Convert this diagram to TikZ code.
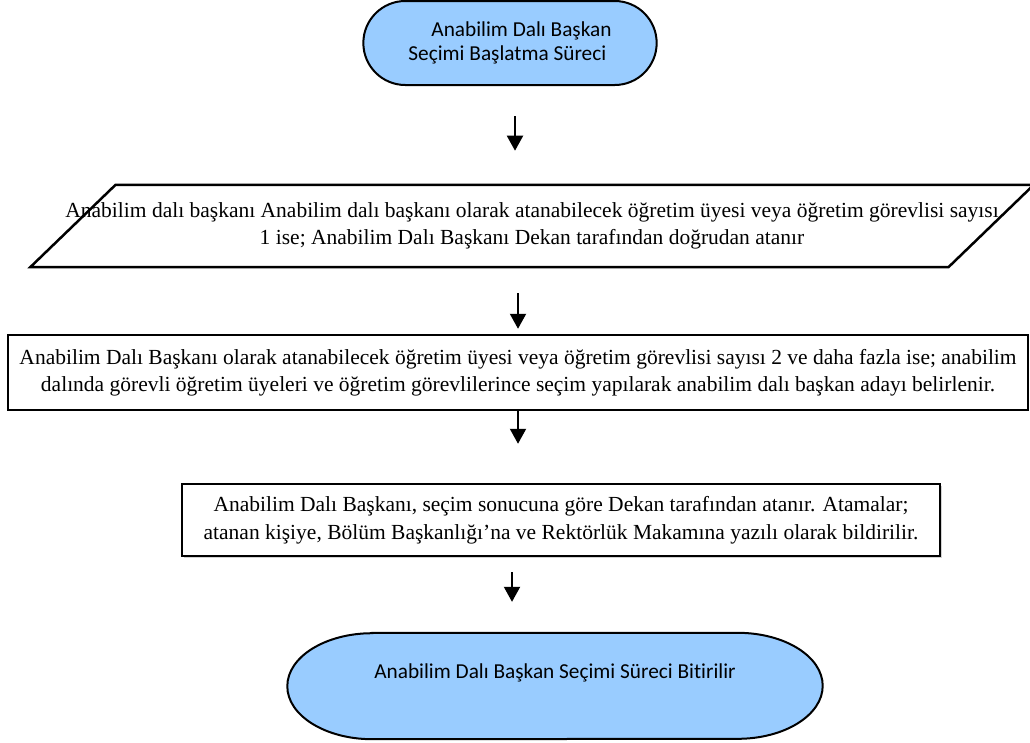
\documentclass[tikz,border=0pt]{standalone}
\usepackage{fontspec}
\setmainfont{Liberation Serif}
\newfontfamily\termfont[Ligatures=NoCommon]{Carlito}
\usepackage{tikz}
\usetikzlibrary{arrows.meta,shapes.geometric,shapes.misc,shadows,backgrounds}
\definecolor{termblue}{RGB}{153,204,255}

\begin{document}
\begin{tikzpicture}[x=1pt,y=1pt,
term/.style={rounded rectangle,draw,line width=2pt,fill=termblue,minimum width=300pt,minimum height=84pt,align=left,font=\termfont\fontsize{21.3}{23.5}\selectfont},
termend/.style={minimum width=535pt,minimum height=106pt,text depth=29pt,font=\termfont\fontsize{21.3}{23.5}\selectfont},
io/.style={trapezium,draw,line width=2.5pt,trapezium left angle=44,trapezium right angle=136,inner xsep=-50pt,inner ysep=17.5pt,align=center,font=\fontsize{21.5}{27.5}\selectfont},
proc/.style={rectangle,draw,fill=white,line width=2.5pt,inner sep=0pt,align=center,font=\fontsize{21.5}{27.5}\selectfont},
flow/.style={-{Triangle[width=16pt,length=15pt]},line width=2pt}]
\useasboundingbox (0,0) rectangle (1030,-742);
\node[term] (start) at (510,-43) {\hspace*{23pt}Anabilim Dalı Başkan\\Seçimi Başlatma Süreci};
\node[io] (para) at (532,-226) {Anabilim dalı başkanı Anabilim dalı başkanı olarak atanabilecek öğretim üyesi veya öğretim görevlisi sayısı\\1 ise; Anabilim Dalı Başkanı Dekan tarafından doğrudan atanır};
\node[proc,minimum width=1020pt,minimum height=75pt] (check) at (518,-372.5) {Anabilim Dalı Başkanı olarak atanabilecek öğretim üyesi veya öğretim görevlisi sayısı 2 ve daha fazla ise; anabilim\\dalında görevli öğretim üyeleri ve öğretim görevlilerince seçim yapılarak anabilim dalı başkan adayı belirlenir.};
\node[proc,minimum width=758pt,minimum height=72pt,drop shadow={shadow xshift=2pt,shadow yshift=-2pt,fill=black!35}] (assign) at (561,-520) {Anabilim Dalı Başkanı, seçim sonucuna göre Dekan tarafından atanır. Atamalar;\\atanan kişiye, Bölüm Başkanlığı’na ve Rektörlük Makamına yazılı olarak bildirilir.};
\node[termend] (stop) at (555,-686) {Anabilim Dalı Başkan Seçimi Süreci Bitirilir};
\begin{pgfonlayer}{background}
\draw[line width=2pt,fill=termblue] ([xshift=85pt]stop.north west) -- ([xshift=-85pt]stop.north east)
  arc[start angle=90,end angle=-90,x radius=85pt,y radius=53pt] -- ([xshift=85pt]stop.south west)
  arc[start angle=270,end angle=90,x radius=85pt,y radius=53pt] -- cycle;
\end{pgfonlayer}
\path[flow]
([xshift=5pt]start.south) edge [shorten <=30pt,shorten >=33pt] ([xshift=5pt]start.south |- para.north)
(check.north |- para.south) edge [shorten <=25pt,shorten >=5pt] (check.north)
(check.south) edge [shorten >=39pt] (check.south |- assign.north)
([xshift=-43pt]stop.north |- assign.south) edge [shorten <=15pt,shorten >=31pt] ([xshift=-43pt]stop.north)
;
\end{tikzpicture}
\end{document}
